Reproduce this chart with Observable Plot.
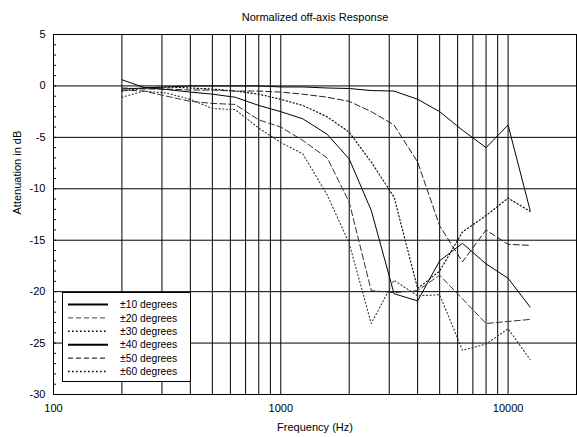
<!DOCTYPE html>
<html><head><meta charset="utf-8">
<script src="https://cdn.jsdelivr.net/npm/d3@7"></script>
<script src="https://cdn.jsdelivr.net/npm/@observablehq/plot@0.6"></script>
<style>
body{margin:0;background:#fff;font-family:"Liberation Sans",Arial,sans-serif;}
#wrap{position:relative;width:577px;height:437px;overflow:hidden;}
#legend{position:absolute;left:62px;top:292px;width:129px;height:90px;border:1px solid #000;background:#fff;box-sizing:border-box;}
#legend svg{position:absolute;left:0;top:0;}
</style></head><body><div id="wrap"></div>
<script>
const freqs = [200,250,315,400,500,630,800,1000,1250,1600,2000,2500,3150,4000,5000,6300,8000,10000,12500];
const seriesNames = ["±10 degrees","±20 degrees","±30 degrees","±40 degrees","±50 degrees","±60 degrees"];
const deg10 = [-0.3,-0.2,-0.1,0,0,0,0,-0.1,-0.1,-0.2,-0.25,-0.45,-0.5,-1.3,-2.5,-4.3,-6.0,-3.8,-12.1];
const deg20 = [-0.2,-0.3,-0.3,-0.4,-0.4,-0.5,-0.5,-0.6,-0.8,-1.1,-1.5,-2.5,-3.8,-7.4,-13.6,-17.1,-14.0,-15.4,-15.5];
const deg30 = [-0.5,-0.2,-0.1,-0.2,-0.3,-0.5,-0.8,-1.3,-1.9,-3.0,-4.5,-7.4,-10.8,-19.7,-18.0,-14.2,-12.6,-10.9,-12.2];
const deg40 = [0.6,-0.15,-0.35,-0.6,-0.8,-1.1,-1.9,-2.5,-3.2,-4.7,-7.1,-12.1,-20.2,-20.9,-17.0,-15.3,-17.3,-18.7,-21.5];
const deg50 = [-0.4,-0.5,-1.0,-1.5,-1.7,-1.8,-3.3,-4.0,-5.3,-7.0,-11.3,-19.9,-20.1,-19.9,-18.4,-20.7,-23.1,-22.9,-22.7];
const deg60 = [-1.1,-0.5,-0.7,-1.3,-2.2,-2.3,-4.1,-5.5,-6.6,-10.6,-15.3,-23.1,-18.9,-20.4,-20.3,-25.7,-25.1,-23.6,-26.6];
const xTickLabels = [100,1000,10000];
const yTickLabels = [5,0,-5,-10,-15,-20,-25,-30];
const gridX = [200,300,400,500,600,700,800,900,1000,2000,3000,4000,5000,6000,7000,8000,9000,10000];
const gridY = [0,-5,-10,-15,-20,-25];
const minorY = d3.range(-30,6,1);
const title = "Normalized off-axis Response";
const xLabel = "Frequency (Hz)";
const yLabel = "Attenuation in dB";

const values = [deg10,deg20,deg30,deg40,deg50,deg60];
const styles = [
  {dash:null, w:1, c:"#000", lw:2, lc:"#000", ld:null},
  {dash:"6,3", w:1, c:"#222", lw:1.2, lc:"#666", ld:"5,3"},
  {dash:"1.2,2.4", w:1.2, c:"#111", lw:1.6, lc:"#000", ld:"1.6,2.4"},
  {dash:null, w:1, c:"#000", lw:2, lc:"#000", ld:null},
  {dash:"6,3", w:1, c:"#333", lw:1.2, lc:"#333", ld:"5,3"},
  {dash:"1.1,2.5", w:1.1, c:"#333", lw:1.6, lc:"#000", ld:"1.6,2.4"}
];
const data = [];
values.forEach((vals, s) => vals.forEach((v, i) => data.push({f: freqs[i], db: v, name: seriesNames[s]})));

const lineMarks = seriesNames.map((n, s) => Plot.line(data.filter(d => d.name === n), {
  x: "f", y: "db", stroke: styles[s].c, strokeWidth: styles[s].w,
  strokeDasharray: styles[s].dash
}));

const plot = Plot.plot({
  width: 577, height: 437,
  marginLeft: 53, marginRight: 1, marginTop: 34, marginBottom: 43,
  style: {fontFamily: "Liberation Sans, Arial, sans-serif", fontSize: "11px", color: "#000", background: "#fff", overflow: "visible"},
  x: {type: "log", domain: [100, 20000]},
  y: {domain: [-30, 5]},
  marks: [
    Plot.ruleX(gridX, {stroke: "#000", strokeWidth: 1}),
    Plot.ruleY(gridY, {stroke: "#000", strokeWidth: 1}),
    Plot.axisX({ticks: xTickLabels, tickSize: 0, tickPadding: 10, tickFormat: d => String(d), label: null, fontSize: 11}),
    Plot.axisY({ticks: yTickLabels, tickSize: 0, tickPadding: 8, tickFormat: d => String(d), label: null, fontSize: 11}),
    Plot.axisY({ticks: minorY, tickSize: -3, tickFormat: () => "", label: null}),
    ...lineMarks,
    Plot.frame({stroke: "#000", strokeWidth: 1}),
    Plot.text([title], {frameAnchor: "top", dy: -21, fontSize: 11}),
    Plot.text([yLabel], {frameAnchor: "left", rotate: -90, dx: -36, fontSize: 11}),
    Plot.text([xLabel], {frameAnchor: "bottom", dy: 36, fontSize: 11})
  ]
});
const wrap = document.getElementById("wrap");
wrap.appendChild(plot);

// legend
const leg = document.createElement("div");
leg.id = "legend";
const ns = "http://www.w3.org/2000/svg";
const svg = document.createElementNS(ns, "svg");
svg.setAttribute("width", 129); svg.setAttribute("height", 90);
seriesNames.forEach((n, i) => {
  const y = 11.5 + i * 13.4;
  const l = document.createElementNS(ns, "line");
  l.setAttribute("x1", 5); l.setAttribute("x2", 45);
  l.setAttribute("y1", y); l.setAttribute("y2", y);
  l.setAttribute("stroke", styles[i].lc);
  l.setAttribute("stroke-width", styles[i].lw);
  if (styles[i].ld) l.setAttribute("stroke-dasharray", styles[i].ld);
  svg.appendChild(l);
  const t = document.createElementNS(ns, "text");
  t.setAttribute("x", 57); t.setAttribute("y", y + 3.6);
  t.setAttribute("font-size", "10.3px");
  t.setAttribute("font-family", "Liberation Sans, Arial, sans-serif");
  t.textContent = n;
  svg.appendChild(t);
});
leg.appendChild(svg);
wrap.appendChild(leg);
</script></body></html>
